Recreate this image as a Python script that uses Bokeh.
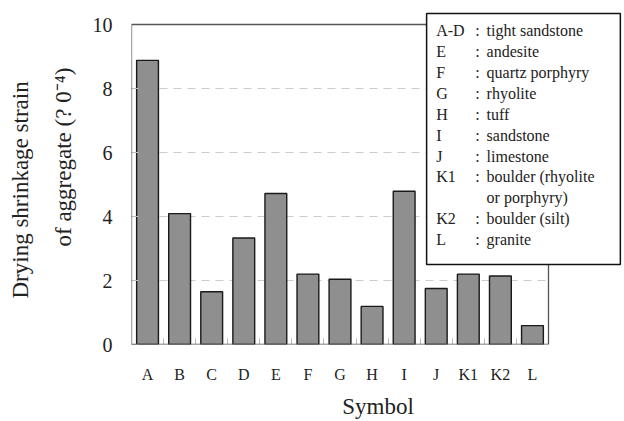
import math
from bokeh.plotting import figure
from bokeh.models import (FixedTicker, Range1d, Label, BoxAnnotation, Title)
from bokeh.embed import file_html
from bokeh.resources import INLINE

symbols = ["A", "B", "C", "D", "E", "F", "G", "H", "I", "J", "K1", "K2", "L"]
strain = [8.88, 4.09, 1.65, 3.33, 4.72, 2.20, 2.04, 1.19, 4.79, 1.75, 2.20, 2.14, 0.59]
y_ticks = [0, 2, 4, 6, 8, 10]
grid_values = [2, 4, 6, 8]

legend_keys = ["A-D", "E", "F", "G", "H", "I", "J", "K1", "", "K2", "L"]
legend_desc = ["tight sandstone", "andesite", "quartz porphyry", "rhyolite", "tuff",
               "sandstone", "limestone", "boulder (rhyolite", "or porphyry)",
               "boulder (silt)", "granite"]

FONT = "Liberation Serif"
W, H = 624, 421
L_, B_ = 131, 77
n = len(symbols)
y_max = 10

# frame extends to the right and top edges of the canvas; the plot area (0..n, 0..10)
# is outlined separately so the legend box can sit over its corner
px_x = (548 - 131) / n
px_y = (344 - 24) / y_max
x_end = n + (W - 548) / px_x
y_end = y_max + 24 / px_y

p = figure(width=W, height=H, output_backend="svg", toolbar_location=None,
           x_range=Range1d(0, x_end), y_range=Range1d(0, y_end),
           min_border_left=L_, min_border_right=0, min_border_top=0, min_border_bottom=B_)
p.outline_line_color = None
p.background_fill_color = "white"
p.border_fill_color = "white"

# gridlines restricted to the plot area
p.xgrid.grid_line_color = None
p.ygrid.grid_line_color = None
p.segment(x0=[0] * len(grid_values), x1=[n] * len(grid_values), y0=grid_values, y1=grid_values,
          line_color="#cccccc", line_dash="8 6", line_width=1)

# plot-area border
p.add_layout(BoxAnnotation(left=0, right=n, bottom=0, top=y_max, fill_alpha=0,
                           line_color="#555555", line_width=1.3, line_alpha=1.0))

centers = [i + 0.5 for i in range(n)]
p.vbar(x=centers, top=strain, width=0.68, bottom=0,
       fill_color="#8f8f8f", line_color="#1a1a1a", line_width=1.4)

# x axis
p.xaxis.ticker = FixedTicker(ticks=centers, minor_ticks=list(range(1, n)))
p.xaxis.major_label_overrides = {c: s for c, s in zip(centers, symbols)}
p.xaxis.major_tick_line_color = None
p.xaxis.minor_tick_in = 6
p.xaxis.minor_tick_out = 0
p.xaxis.minor_tick_line_color = "#bbbbbb"
p.xaxis.axis_line_color = None
p.xaxis.major_label_text_font = FONT
p.xaxis.major_label_text_font_size = "16px"
p.xaxis.major_label_text_color = "#222222"
p.xaxis.major_label_standoff = 15
p.xaxis.axis_label = "Symbol"
p.xaxis.axis_label_text_font = FONT
p.xaxis.axis_label_text_font_size = "23px"
p.xaxis.axis_label_text_font_style = "normal"
p.xaxis.axis_label_text_color = "#222222"
p.xaxis.axis_label_standoff = 8

# y axis
p.yaxis.ticker = FixedTicker(ticks=y_ticks)
p.yaxis.major_tick_in = 7
p.yaxis.major_tick_out = 0
p.yaxis.major_tick_line_color = "#bbbbbb"
p.yaxis.minor_tick_line_color = None
p.yaxis.axis_line_color = None
p.yaxis.major_label_text_font = FONT
p.yaxis.major_label_text_font_size = "20px"
p.yaxis.major_label_text_color = "#222222"
p.yaxis.major_label_standoff = 19

# y axis label lines as side titles
t2 = Title(text="of aggregate (? 0\u207b\u2074)", align="left", text_font=FONT,
           text_font_size="23px", text_font_style="normal", text_color="#222222",
           standoff=27, offset=98)
t1 = Title(text="Drying shrinkage strain", align="left", text_font=FONT,
           text_font_size="23px", text_font_style="normal", text_color="#222222",
           standoff=5, offset=46)
p.add_layout(t2, "left")
p.add_layout(t1, "left")

# legend box
p.add_layout(BoxAnnotation(left=9.2, right=15.24, top=10.34, bottom=2.5,
                           fill_color="white", fill_alpha=1.0,
                           line_color="#111111", line_width=1.5, line_alpha=1.0,
                           level="overlay"))
top_y = 10.34
for i, (k, d) in enumerate(zip(legend_keys, legend_desc)):
    yy = top_y - (17 + i * 20.9) / px_y
    if k:
        p.add_layout(Label(x=9.5, y=yy, text=k, text_align="left", text_baseline="middle",
                           text_font=FONT, text_font_size="16px", text_color="#222222",
                           level="overlay"))
        p.add_layout(Label(x=10.72, y=yy, text=":", text_align="left", text_baseline="middle",
                           text_font=FONT, text_font_size="16px", text_color="#222222",
                           level="overlay"))
    p.add_layout(Label(x=11.07, y=yy, text=d, text_align="left", text_baseline="middle",
                       text_font=FONT, text_font_size="16px", text_color="#222222",
                       level="overlay"))

open("out.html", "w").write(file_html(p, INLINE))
